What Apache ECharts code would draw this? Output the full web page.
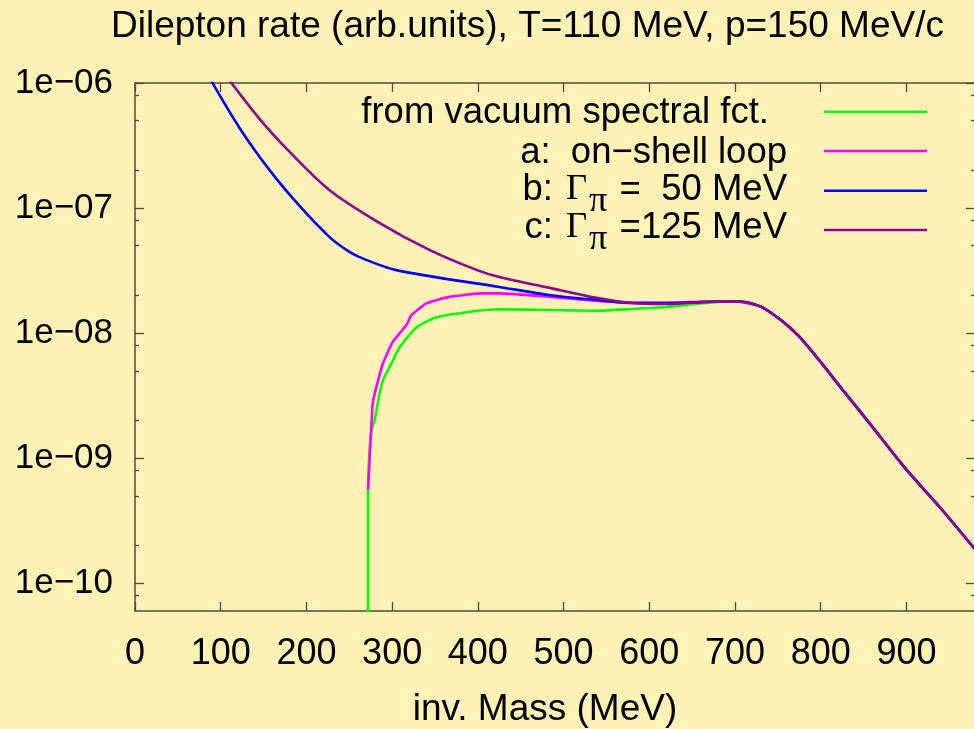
<!DOCTYPE html>
<html>
<head>
<meta charset="utf-8">
<title>Dilepton rate</title>
<script src="https://cdn.jsdelivr.net/npm/echarts@6/dist/echarts.min.js"></script>
<style>
  html, body { margin: 0; padding: 0; background: #fdf1b5; }
  #chart { width: 974px; height: 729px; }
</style>
</head>
<body>
<div id="chart"></div>
<script>
// ---- data: invariant mass (MeV) and dilepton rate (arb. units) per curve ----
const massVacuum = [271.9, 271.9, 273.7, 276, 279.5, 285.5, 289.4, 300, 309, 329, 352, 387, 425, 485, 540, 580, 620, 660, 700, 730, 755, 775, 800, 825, 855, 900, 940, 980];
const rateVacuum = [1e-12, 5.5e-10, 1.16e-9, 1.67e-9, 2.01e-9, 3.31e-9, 4.21e-9, 5.86e-9, 7.73e-9, 1.12e-8, 1.34e-8, 1.47e-8, 1.55e-8, 1.53e-8, 1.51e-8, 1.56e-8, 1.62e-8, 1.73e-8, 1.80e-8, 1.63e-8, 1.25e-8, 9.36e-9, 5.86e-9, 3.56e-9, 1.98e-9, 8.09e-10, 3.98e-10, 1.87e-10];

const massOnShell = [271.9, 277.4, 281.7, 289.4, 300.7, 316.7, 322.5, 340, 367, 405, 425, 485, 540, 580, 620, 660, 700, 730, 755, 775, 800, 825, 855, 900, 940, 980];
const rateOnShell = [5.55e-10, 2.75e-9, 3.72e-9, 5.75e-9, 8.51e-9, 1.16e-8, 1.39e-8, 1.73e-8, 1.95e-8, 2.08e-8, 2.08e-8, 1.95e-8, 1.81e-8, 1.75e-8, 1.75e-8, 1.78e-8, 1.80e-8, 1.63e-8, 1.25e-8, 9.36e-9, 5.86e-9, 3.56e-9, 1.98e-9, 8.09e-10, 3.98e-10, 1.87e-10];

const massGamma50 = [85, 122, 157, 192, 227, 247, 262, 305, 425, 485, 540, 580, 620, 660, 700, 730, 755, 775, 800, 825, 855, 900, 940, 980];
const rateGamma50 = [1.16e-6, 4.37e-7, 2.01e-7, 1.04e-7, 5.86e-8, 4.61e-8, 4.05e-8, 3.19e-8, 2.34e-8, 2.01e-8, 1.84e-8, 1.74e-8, 1.74e-8, 1.77e-8, 1.80e-8, 1.63e-8, 1.25e-8, 9.36e-9, 5.86e-9, 3.56e-9, 1.98e-9, 8.09e-10, 3.98e-10, 1.87e-10];

const massGamma125 = [105, 145.5, 180.5, 227, 285.5, 344, 399, 425, 485, 540, 580, 620, 660, 700, 730, 755, 775, 800, 825, 855, 900, 940, 980];
const rateGamma125 = [1.17e-6, 5.15e-7, 2.81e-7, 1.39e-7, 7.59e-8, 4.61e-8, 3.19e-8, 2.81e-8, 2.29e-8, 1.91e-8, 1.74e-8, 1.71e-8, 1.77e-8, 1.80e-8, 1.63e-8, 1.25e-8, 9.36e-9, 5.86e-9, 3.56e-9, 1.98e-9, 8.09e-10, 3.98e-10, 1.87e-10];

// ---- axes ----
const massMin = 0;
const massMax = 980;
const xTickValues = [0, 100, 200, 300, 400, 500, 600, 700, 800, 900];
const xTickLabels = ['0', '100', '200', '300', '400', '500', '600', '700', '800', '900'];

const rateMin = 6e-11;
const rateMax = 1e-6;
const yTickValues = [1e-6, 1e-7, 1e-8, 1e-9, 1e-10];
const yTickLabels = ['1e\u221206', '1e\u221207', '1e\u221208', '1e\u221209', '1e\u221210'];
const yMinorTicks = [8e-11, 2e-10, 5e-10, 8e-10, 2e-9, 5e-9, 8e-9, 2e-8, 5e-8, 8e-8, 2e-7, 5e-7, 8e-7];

const titleText = 'Dilepton rate (arb.units), T=110 MeV, p=150 MeV/c';
const xAxisTitle = 'inv. Mass (MeV)';

const SANS = '"Liberation Sans", Arial, Helvetica, sans-serif';
const SERIF = '"Liberation Serif", "Times New Roman", serif';
const AXIS_COLOR = '#4f4b40';
const COLORS = { vacuum: '#00ff00', onShell: '#ff00ff', g50: '#0000ff', g125: '#8f008f' };
const LINE_W = 2.6;
const KEY_FONT = 36.5;

function pairs(m, r) { return m.map((x, i) => [x, r[i]]); }

function xLabel(v) {
  const i = xTickValues.indexOf(Math.round(v));
  return i >= 0 ? xTickLabels[i] : '';
}
function yLabel(v) {
  const e = Math.round(-Math.log10(v));
  const i = yTickValues.findIndex(t => Math.round(-Math.log10(t)) === e);
  return i >= 0 ? yTickLabels[i] : '';
}

const tickLine = { color: AXIS_COLOR, width: 1.3 };

function yAxisDef(position, ticks, len, withLabels, withLine) {
  return {
    type: 'log', logBase: 10, min: rateMin, max: rateMax, position: position,
    axisLine: { show: withLine, lineStyle: { color: AXIS_COLOR, width: 1.5 } },
    axisTick: { show: true, inside: true, length: len, customValues: ticks, lineStyle: tickLine },
    axisLabel: withLabels ? {
      show: true, customValues: ticks, formatter: yLabel, margin: 22,
      color: '#000', fontSize: 35, fontFamily: SANS
    } : { show: false },
    minorTick: { show: false },
    splitLine: { show: false }
  };
}

const chart = echarts.init(document.getElementById('chart'), null, { renderer: 'canvas' });

// key: sample line to the right of each description
function keyLine(y, color) {
  return {
    type: 'line', silent: true,
    shape: { x1: 824, y1: y, x2: 927, y2: y },
    style: { stroke: color, lineWidth: LINE_W }
  };
}
// text placed by its baseline
function txt(x, baseline, text, align, family) {
  return {
    type: 'text', silent: true, x: x, y: baseline - 29,
    style: {
      text: text, fill: '#000', align: align, verticalAlign: 'top',
      font: KEY_FONT + 'px ' + (family || SANS)
    }
  };
}

chart.setOption({
  animation: false,
  backgroundColor: '#fdf1b5',
  title: {
    text: titleText, left: 106, top: 3,
    textStyle: { fontSize: 37, fontWeight: 'normal', color: '#000', fontFamily: SANS }
  },
  grid: { left: 135, top: 83, width: 840, height: 528, containLabel: false, outerBoundsMode: 'none' },
  xAxis: [
    {
      type: 'value', min: massMin, max: massMax, position: 'bottom',
      axisLine: { show: true, onZero: false, lineStyle: { color: AXIS_COLOR, width: 1.5 } },
      axisTick: { show: true, inside: true, length: 9, customValues: xTickValues, lineStyle: tickLine },
      axisLabel: { customValues: xTickValues, formatter: xLabel, margin: 25, color: '#000', fontSize: 36, fontFamily: SANS },
      splitLine: { show: false },
      name: xAxisTitle, nameLocation: 'middle', nameGap: 80,
      nameTextStyle: { color: '#000', fontSize: 37, fontFamily: SANS, padding: [0, 20, 0, 0] }
    },
    {
      type: 'value', min: massMin, max: massMax, position: 'top',
      axisLine: { show: true, onZero: false, lineStyle: { color: AXIS_COLOR, width: 1.5 } },
      axisTick: { show: true, inside: true, length: 9, customValues: xTickValues, lineStyle: tickLine },
      axisLabel: { show: false },
      splitLine: { show: false }
    }
  ],
  yAxis: [
    yAxisDef('left', yTickValues, 9, true, true),
    yAxisDef('left', yMinorTicks, 4, false, false),
    yAxisDef('right', yTickValues, 9, false, true),
    yAxisDef('right', yMinorTicks, 4, false, false)
  ],
  series: [
    { name: 'vacuum', type: 'line', data: pairs(massVacuum, rateVacuum), color: COLORS.vacuum, smooth: 0.2 },
    { name: 'onShell', type: 'line', data: pairs(massOnShell, rateOnShell), color: COLORS.onShell, smooth: 0.15 },
    { name: 'g50', type: 'line', data: pairs(massGamma50, rateGamma50), color: COLORS.g50, smooth: 0.3 },
    { name: 'g125', type: 'line', data: pairs(massGamma125, rateGamma125), color: COLORS.g125, smooth: 0.3 }
  ].map(s => Object.assign({
    xAxisIndex: 0, yAxisIndex: 0, showSymbol: false, symbol: 'none', clip: true
  }, s, { lineStyle: { width: LINE_W, color: s.color } })),
  graphic: [
    txt(769, 123.5, 'from vacuum spectral fct.', 'right'),
    keyLine(111.7, COLORS.vacuum),
    txt(787, 163.3, 'a:  on\u2212shell loop', 'right'),
    keyLine(151, COLORS.onShell),
    txt(553, 200, 'b:', 'right'),
    txt(566, 200, '\u0393', 'left', SERIF),
    txt(589, 212, '\u03c0', 'left', SERIF),
    txt(787, 200, '=  50 MeV', 'right'),
    keyLine(190.7, COLORS.g50),
    txt(553, 238.3, 'c:', 'right'),
    txt(566, 238.3, '\u0393', 'left', SERIF),
    txt(589, 250.3, '\u03c0', 'left', SERIF),
    txt(787, 238.3, '=125 MeV', 'right'),
    keyLine(230, COLORS.g125)
  ]
});
</script>
</body>
</html>
